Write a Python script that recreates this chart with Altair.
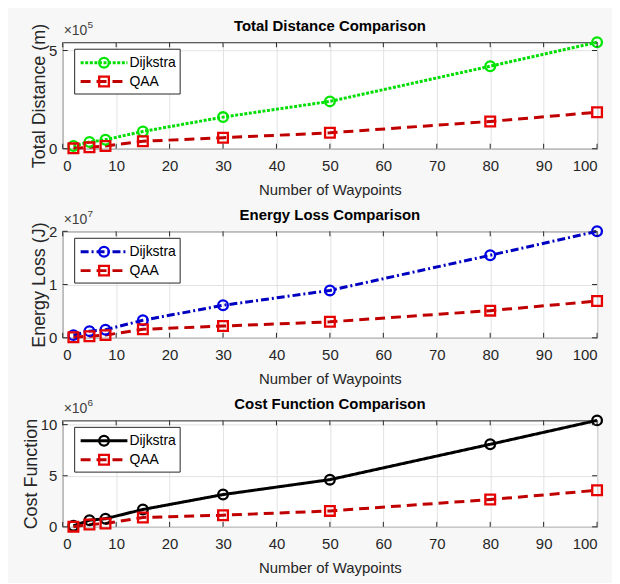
import altair as alt
import pandas as pd

# ---------------- data ----------------
waypoints = [2, 5, 8, 15, 30, 50, 80, 100]
series_names = ["Dijkstra", "QAA"]

distance_dijkstra = [0.14e5, 0.34e5, 0.46e5, 0.88e5, 1.61e5, 2.41e5, 4.20e5, 5.42e5]
distance_qaa = [0.02e5, 0.07e5, 0.14e5, 0.38e5, 0.56e5, 0.81e5, 1.39e5, 1.86e5]

energy_dijkstra = [0.05e7, 0.125e7, 0.15e7, 0.33e7, 0.61e7, 0.89e7, 1.55e7, 2.0e7]
energy_qaa = [0.01e7, 0.03e7, 0.05e7, 0.16e7, 0.22e7, 0.30e7, 0.51e7, 0.69e7]

cost_dijkstra = [0.10e6, 0.65e6, 0.80e6, 1.70e6, 3.16e6, 4.62e6, 8.08e6, 10.42e6]
cost_qaa = [0.02e6, 0.23e6, 0.33e6, 0.92e6, 1.14e6, 1.56e6, 2.67e6, 3.58e6]

panel_titles = ["Total Distance Comparison", "Energy Loss Comparison", "Cost Function Comparison"]
y_titles = ["Total Distance (m)", "Energy Loss (J)", "Cost Function"]
x_title = "Number of Waypoints"
x_ticks = [0, 10, 20, 30, 40, 50, 60, 70, 80, 90, 100]
y_ticks = [[0, 5e5], [0, 1e7, 2e7], [0, 5e6, 10e6]]
y_max = [5.42e5, 2.0e7, 10.42e6]
y_exponents = [5, 7, 6]

# ---------------- style ----------------
FONT = "Liberation Sans"
W, H = 537, 107
TXT = "#262626"
dij_line_colors = ["#00dd00", "#0000c0", "#000000"]
dij_marker_colors = ["#00e600", "#0000e6", "#000000"]
qaa_line_color = "#c00000"
qaa_marker_color = "#e60000"
dij_dashes = [[3, 1.6], [8, 3, 2, 3], [1, 0]]
qaa_dash = [10, 6]
LEG_BOX = (12, 118, 7, 52)       # legend frame (px inside plot)
LEG_LINE = (18, 65)              # legend line sample
LEG_ROWS = [20.5, 39.5]          # legend row centres


def panel(i, dij, qaa):
    df = pd.DataFrame({
        "x": waypoints + waypoints,
        "y": dij + qaa,
        "series": [series_names[0]] * len(waypoints) + [series_names[1]] * len(waypoints),
    })
    xscale = alt.Scale(domain=[0, 100], nice=False, zero=False)
    yscale = alt.Scale(domain=[0, y_max[i]], nice=False, zero=False)
    div = 10 ** y_exponents[i]
    x_axis = alt.Axis(values=x_ticks, title=x_title, grid=True, format="d")
    y_axis = alt.Axis(values=y_ticks[i], title=y_titles[i], grid=True,
                      labelExpr=f"format(datum.value / {div}, 'd')")
    color_scale = alt.Scale(domain=series_names, range=[dij_line_colors[i], qaa_line_color])
    dash_scale = alt.Scale(domain=series_names, range=[dij_dashes[i], qaa_dash])
    shape_scale = alt.Scale(domain=series_names, range=["circle", "square"])
    mstroke_scale = alt.Scale(domain=series_names, range=[dij_marker_colors[i], qaa_marker_color])

    color_enc = alt.Color("series:N", scale=color_scale, legend=None)
    dash_enc = alt.StrokeDash("dash:N", scale=dash_scale, legend=None)
    shape_enc = alt.Shape("marker:N", scale=shape_scale, legend=None)
    mstroke_enc = alt.Stroke("marker:N", scale=mstroke_scale, legend=None)

    base = alt.Chart(df).transform_calculate(marker="datum.series", dash="datum.series")
    x_enc = alt.X("x:Q", scale=xscale, axis=x_axis)
    y_enc = alt.Y("y:Q", scale=yscale, axis=y_axis)

    lines = base.mark_line(strokeWidth=3).encode(
        x=x_enc, y=y_enc, color=color_enc, strokeDash=dash_enc)
    points = base.mark_point(filled=False, strokeWidth=2.3, size=95, opacity=1).encode(
        x=x_enc, y=y_enc, shape=shape_enc, stroke=mstroke_enc)

    # inner (MATLAB-style) tick marks on all four sides
    xt = pd.DataFrame({"x": x_ticks})
    yt = pd.DataFrame({"y": y_ticks[i]})
    tick_style = dict(color=TXT, strokeWidth=1)
    top_ticks = alt.Chart(xt).mark_rule(**tick_style).encode(
        x=x_enc, y=alt.value(0), y2=alt.value(5))
    bottom_ticks = alt.Chart(xt).mark_rule(**tick_style).encode(
        x=x_enc, y=alt.value(H - 5), y2=alt.value(H))
    left_ticks = alt.Chart(yt).mark_rule(**tick_style).encode(
        y=y_enc, x=alt.value(0), x2=alt.value(5))
    right_ticks = alt.Chart(yt).mark_rule(**tick_style).encode(
        y=y_enc, x=alt.value(W - 5), x2=alt.value(W))

    # axis exponent (x10^n)
    ex = pd.DataFrame({"base": ["\u00d710"], "exp": [str(y_exponents[i])]})
    t_base = alt.Chart(ex).mark_text(align="left", baseline="alphabetic", fontSize=14,
                                     color="#404040", font=FONT).encode(
        text="base:N", x=alt.value(1), y=alt.value(-7))
    t_exp = alt.Chart(ex).mark_text(align="left", baseline="alphabetic", fontSize=10,
                                    color="#404040", font=FONT).encode(
        text="exp:N", x=alt.value(25), y=alt.value(-14))

    # legend (MATLAB style: line sample + marker + label inside a framed box)
    leg_df = pd.DataFrame({"series": series_names})
    leg_base = alt.Chart(leg_df).transform_calculate(marker="datum.series", dash="datum.series")
    box = leg_base.transform_filter(f"datum.series === '{series_names[0]}'").mark_rect(
        fill="white", stroke=TXT, strokeWidth=1).encode(
        x=alt.value(LEG_BOX[0]), x2=alt.value(LEG_BOX[1]),
        y=alt.value(LEG_BOX[2]), y2=alt.value(LEG_BOX[3]))
    entries = []
    for j, name in enumerate(series_names):
        eb = leg_base.transform_filter(f"datum.series === '{name}'")
        entries.append(eb.mark_rule(strokeWidth=3).encode(
            x=alt.value(LEG_LINE[0]), x2=alt.value(LEG_LINE[1]), y=alt.value(LEG_ROWS[j]),
            color=color_enc, strokeDash=dash_enc))
        entries.append(eb.mark_point(filled=False, strokeWidth=2.3, size=95, opacity=1).encode(
            x=alt.value((LEG_LINE[0] + LEG_LINE[1]) / 2), y=alt.value(LEG_ROWS[j]),
            shape=shape_enc, stroke=mstroke_enc))
        entries.append(eb.mark_text(align="left", baseline="middle", fontSize=14,
                                    font=FONT, color="#000000").encode(
            x=alt.value(LEG_LINE[1] + 2), y=alt.value(LEG_ROWS[j]), text="series:N"))

    return alt.layer(lines, points, top_ticks, bottom_ticks, left_ticks, right_ticks,
                     t_base, t_exp, box, *entries).properties(
        width=W, height=H,
        title=alt.Title(panel_titles[i], offset=-14),
    )


p1 = panel(0, distance_dijkstra, distance_qaa)
p2 = panel(1, energy_dijkstra, energy_qaa)
p3 = panel(2, cost_dijkstra, cost_qaa)

chart = alt.vconcat(p1, p2, p3, spacing=83, bounds="flush").resolve_scale(
    color="independent", stroke="independent", strokeDash="independent",
    shape="independent", x="independent", y="independent",
).properties(
    background="#f7f7f7",
    padding={"left": 13, "top": 9, "right": 5, "bottom": 5},
).configure_view(
    stroke=TXT, strokeWidth=1, fill="white",
).configure_axis(
    domain=False, ticks=False, gridColor="#e2e2e2", gridWidth=1,
    labelFont=FONT, labelFontSize=15, labelColor=TXT,
    titleFont=FONT, titleFontWeight="normal", titleColor=TXT,
).configure_axisX(
    labelPadding=10, titleFontSize=15, titlePadding=9,
).configure_axisY(
    labelPadding=6, titleFontSize=18, titlePadding=0,
).configure_title(
    font=FONT, fontSize=15, fontWeight="bold", color="#000000",
)

chart.save("out.html", embed_options={"renderer": "svg", "actions": False})
